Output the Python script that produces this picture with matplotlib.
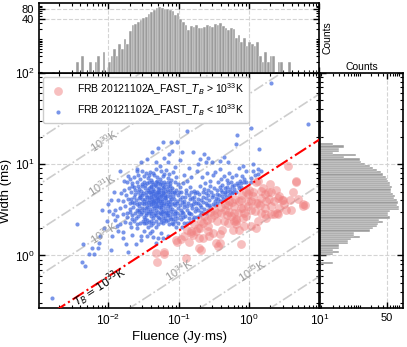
import numpy as np
import matplotlib
matplotlib.use('Agg')
import matplotlib.pyplot as plt
from matplotlib.ticker import FixedLocator, FixedFormatter, LogLocator, NullFormatter

plt.rcParams['font.family'] = ['Liberation Sans', 'DejaVu Sans']

# bursts with T_B < 1e33 K, (log10 fluence [Jy ms], log10 width [ms])
blue_core = [
    (-1.52, 0.93), (-1.41, 0.91), (-1.33, 0.95), (-1.25, 0.92), (-1.18, 0.94), (-1.47, 0.90), (-1.08, 0.91),
    (-1.60, 0.92), (-1.36, 0.90), (-1.21, 0.89),
    (-1.63, 0.86), (-1.55, 0.84), (-1.49, 0.87), (-1.44, 0.85), (-1.39, 0.83), (-1.31, 0.86), (-1.27, 0.84),
    (-1.22, 0.87), (-1.15, 0.85), (-1.11, 0.83), (-1.04, 0.86), (-1.35, 0.88), (-1.58, 0.88), (-1.69, 0.84),
    (-1.66, 0.79), (-1.60, 0.81), (-1.53, 0.78), (-1.50, 0.80), (-1.45, 0.79), (-1.42, 0.81), (-1.37, 0.78),
    (-1.33, 0.80), (-1.29, 0.79), (-1.26, 0.81), (-1.19, 0.78), (-1.16, 0.80), (-1.12, 0.79), (-1.06, 0.81),
    (-1.01, 0.78), (-1.74, 0.80), (-1.40, 0.76), (-1.24, 0.77),
    (-1.71, 0.74), (-1.64, 0.75), (-1.57, 0.73), (-1.52, 0.76), (-1.48, 0.74), (-1.44, 0.72), (-1.40, 0.75),
    (-1.36, 0.73), (-1.32, 0.76), (-1.28, 0.74), (-1.25, 0.72), (-1.21, 0.75), (-1.17, 0.73), (-1.13, 0.76),
    (-1.09, 0.74), (-1.04, 0.72), (-0.99, 0.75), (-1.78, 0.72), (-1.35, 0.71), (-1.30, 0.70), (-1.46, 0.70),
    (-1.75, 0.66), (-1.68, 0.69), (-1.62, 0.67), (-1.58, 0.70), (-1.55, 0.66), (-1.51, 0.68), (-1.47, 0.66),
    (-1.43, 0.69), (-1.40, 0.67), (-1.37, 0.68), (-1.34, 0.66), (-1.31, 0.69), (-1.28, 0.67), (-1.26, 0.65),
    (-1.23, 0.68), (-1.20, 0.66), (-1.16, 0.69), (-1.12, 0.67), (-1.08, 0.65), (-1.05, 0.68), (-1.01, 0.66),
    (-0.97, 0.69), (-1.82, 0.68), (-1.39, 0.64), (-1.33, 0.63), (-1.29, 0.62),
    (-1.79, 0.60), (-1.72, 0.62), (-1.66, 0.59), (-1.61, 0.61), (-1.57, 0.58), (-1.53, 0.62), (-1.50, 0.60),
    (-1.46, 0.58), (-1.43, 0.61), (-1.40, 0.59), (-1.37, 0.57), (-1.35, 0.61), (-1.32, 0.59), (-1.29, 0.57),
    (-1.27, 0.60), (-1.24, 0.62), (-1.21, 0.58), (-1.18, 0.61), (-1.15, 0.59), (-1.11, 0.62), (-1.07, 0.58),
    (-1.03, 0.60), (-0.99, 0.62), (-0.95, 0.59), (-1.86, 0.61), (-1.42, 0.55), (-1.31, 0.54), (-1.25, 0.55),
    (-1.38, 0.62),
    (-1.83, 0.52), (-1.76, 0.54), (-1.70, 0.51), (-1.65, 0.53), (-1.60, 0.50), (-1.56, 0.54), (-1.52, 0.52),
    (-1.49, 0.50), (-1.45, 0.53), (-1.41, 0.51), (-1.38, 0.49), (-1.35, 0.52), (-1.32, 0.50), (-1.28, 0.53),
    (-1.25, 0.51), (-1.22, 0.49), (-1.19, 0.52), (-1.16, 0.50), (-1.13, 0.53), (-1.09, 0.51), (-1.05, 0.49),
    (-1.01, 0.52), (-0.97, 0.50), (-0.93, 0.53), (-1.91, 0.50), (-1.34, 0.47), (-1.27, 0.46), (-1.47, 0.47),
    (-1.88, 0.43), (-1.80, 0.45), (-1.73, 0.42), (-1.67, 0.44), (-1.62, 0.46), (-1.58, 0.43), (-1.54, 0.45),
    (-1.50, 0.42), (-1.46, 0.44), (-1.42, 0.46), (-1.39, 0.43), (-1.36, 0.41), (-1.33, 0.44), (-1.30, 0.42),
    (-1.26, 0.45), (-1.23, 0.43), (-1.20, 0.41), (-1.17, 0.44), (-1.13, 0.42), (-1.10, 0.45), (-1.06, 0.43),
    (-1.02, 0.41), (-0.98, 0.44), (-0.94, 0.42),
    (-1.84, 0.34), (-1.77, 0.37), (-1.70, 0.35), (-1.64, 0.38), (-1.59, 0.34), (-1.55, 0.36), (-1.51, 0.38),
    (-1.47, 0.35), (-1.43, 0.37), (-1.40, 0.33), (-1.37, 0.36), (-1.33, 0.38), (-1.30, 0.34), (-1.26, 0.37),
    (-1.22, 0.35), (-1.18, 0.38), (-1.14, 0.34), (-1.10, 0.36), (-1.05, 0.38), (-1.01, 0.35),
    (-1.48, 0.77), (-1.43, 0.74), (-1.38, 0.80), (-1.34, 0.77), (-1.30, 0.73), (-1.27, 0.78), (-1.23, 0.74),
    (-1.19, 0.71), (-1.15, 0.76), (-1.45, 0.64), (-1.41, 0.70), (-1.36, 0.65), (-1.32, 0.67), (-1.28, 0.64),
    (-1.24, 0.66), (-1.20, 0.63), (-1.17, 0.65), (-1.13, 0.60), (-1.49, 0.56), (-1.44, 0.59), (-1.39, 0.56),
    (-1.34, 0.58), (-1.30, 0.61), (-1.26, 0.58), (-1.22, 0.55), (-1.18, 0.56), (-1.14, 0.56), (-1.52, 0.48),
    (-1.44, 0.49), (-1.40, 0.47), (-1.36, 0.54), (-1.29, 0.48), (-1.24, 0.48), (-1.20, 0.46), (-1.15, 0.47),
    (-1.11, 0.49), (-1.55, 0.64), (-1.59, 0.56), (-1.63, 0.64), (-1.54, 0.71), (-1.10, 0.70), (-1.07, 0.62),
    (-1.05, 0.55), (-1.03, 0.46), (-1.08, 0.40), (-1.48, 0.40), (-1.56, 0.48), (-1.64, 0.57), (-1.69, 0.48),
    (-1.52, 0.66), (-1.21, 0.81), (-1.31, 0.82), (-1.42, 0.88), (-1.14, 0.89), (-1.58, 0.76), (-1.68, 0.62),
    (-1.35, 0.44), (-1.25, 0.40), (-1.45, 0.39), (-1.16, 0.39),
    (-1.62, 0.72), (-1.57, 0.63), (-1.53, 0.57), (-1.48, 0.62), (-1.46, 0.52), (-1.42, 0.64), (-1.38, 0.71),
    (-1.37, 0.60), (-1.33, 0.54), (-1.31, 0.64), (-1.28, 0.70), (-1.26, 0.53), (-1.24, 0.60), (-1.22, 0.70),
    (-1.19, 0.64), (-1.18, 0.48), (-1.16, 0.54), (-1.13, 0.64), (-1.12, 0.72), (-1.09, 0.56), (-1.07, 0.69),
    (-1.06, 0.47), (-1.02, 0.57), (-1.00, 0.70), (-1.70, 0.57), (-1.74, 0.47), (-1.67, 0.40), (-1.61, 0.41),
    (-1.57, 0.50), (-1.50, 0.35), (-1.44, 0.31), (-1.39, 0.38), (-1.32, 0.31), (-1.28, 0.41), (-1.21, 0.39),
    (-1.15, 0.44), (-1.11, 0.40), (-1.08, 0.34), (-1.04, 0.31),
]
blue_left = [
    (-2.80, -0.47), (-2.45, 0.34), (-2.36, 0.13), (-2.38, -0.07), (-2.34, -0.12), (-2.23, 0.08), (-2.21, 0.02),
    (-2.28, 0.01), (-2.15, 0.08), (-2.14, 0.14), (-2.12, 0.21), (-2.09, 0.50), (-2.07, 0.30), (-2.02, 0.38),
    (-2.00, 0.56), (-1.99, 0.49), (-1.96, 0.06), (-1.95, 0.21), (-1.90, 0.39), (-1.88, 0.32), (-1.80, 0.19),
    (-1.79, 0.26), (-1.72, 0.04), (-1.61, 0.12), (-1.59, 0.30), (-1.54, 0.21), (-1.54, 0.17), (-1.45, 0.21),
    (-1.38, 0.27), (-1.33, 0.14), (-1.30, 0.19), (-1.26, 0.25), (-1.23, 0.19), (-1.16, 0.21), (-1.97, 0.61),
    (-1.92, 0.69), (-1.78, 0.82), (-1.66, 0.76), (-1.84, 0.93), (-1.72, 0.87), (-1.94, 0.45), (-1.86, 0.27),
    (-1.75, 0.13), (-1.66, 0.22), (-1.68, 0.31), (-1.50, 0.27), (-1.41, 0.25), (-1.36, 0.20),
]
blue_right = [
    (-0.96, 0.31), (-0.92, 0.35), (-0.88, 0.36), (-0.84, 0.37), (-0.80, 0.40), (-0.97, 0.40), (-0.91, 0.43),
    (-0.86, 0.41), (-0.82, 0.45), (-0.78, 0.42), (-0.95, 0.48), (-0.89, 0.50), (-0.85, 0.47), (-0.81, 0.52),
    (-0.77, 0.49), (-0.93, 0.56), (-0.87, 0.58), (-0.83, 0.55), (-0.79, 0.60), (-0.75, 0.57), (-0.91, 0.64),
    (-0.86, 0.66), (-0.81, 0.63), (-0.77, 0.68), (-0.90, 0.72), (-0.84, 0.75), (-0.79, 0.71), (-0.94, 0.79),
    (-0.88, 0.82), (-0.82, 0.86), (-0.92, 0.88),
    (-0.74, 0.42), (-0.70, 0.44), (-0.66, 0.46), (-0.62, 0.47), (-0.58, 0.50), (-0.72, 0.50), (-0.68, 0.53),
    (-0.64, 0.51), (-0.60, 0.55), (-0.55, 0.53), (-0.52, 0.56), (-0.73, 0.58), (-0.69, 0.61), (-0.65, 0.59),
    (-0.61, 0.63), (-0.57, 0.61), (-0.53, 0.64), (-0.71, 0.67), (-0.66, 0.70), (-0.62, 0.68), (-0.58, 0.72),
    (-0.54, 0.70), (-0.50, 0.74), (-0.70, 0.76), (-0.63, 0.79), (-0.56, 0.82), (-0.67, 0.86), (-0.60, 0.90),
    (-0.52, 0.88), (-0.74, 0.92),
    (-0.48, 0.55), (-0.45, 0.58), (-0.41, 0.60), (-0.37, 0.62), (-0.33, 0.64), (-0.29, 0.66), (-0.25, 0.68),
    (-0.47, 0.63), (-0.43, 0.66), (-0.39, 0.69), (-0.35, 0.67), (-0.31, 0.71), (-0.27, 0.73), (-0.23, 0.70),
    (-0.46, 0.72), (-0.42, 0.75), (-0.38, 0.77), (-0.34, 0.74), (-0.30, 0.79), (-0.26, 0.81), (-0.22, 0.77),
    (-0.44, 0.81), (-0.40, 0.84), (-0.36, 0.87), (-0.32, 0.83), (-0.28, 0.90), (-0.24, 0.86), (-0.48, 0.91),
    (-0.41, 0.95),
    (-0.19, 0.70), (-0.15, 0.74), (-0.11, 0.75), (-0.17, 0.79), (-0.13, 0.82), (-0.08, 0.80), (-0.04, 0.81),
    (-0.18, 0.88), (-0.10, 0.87), (-0.05, 0.92), (0.02, 0.85), (0.08, 0.88), (0.12, 0.95), (-0.14, 0.96),
    (0.05, 1.00), (0.17, 0.93), (0.06, 0.93), (0.12, 0.89), (0.03, 0.80),
    (-0.98, 0.55), (-0.96, 0.64), (-0.94, 0.47), (-0.92, 0.60), (-0.90, 0.68), (-0.88, 0.54), (-0.86, 0.46),
    (-0.84, 0.62), (-0.82, 0.70), (-0.80, 0.56), (-0.78, 0.64), (-0.76, 0.52), (-0.74, 0.70), (-0.72, 0.62),
    (-0.70, 0.55), (-0.68, 0.48), (-0.66, 0.64), (-0.64, 0.73), (-0.62, 0.57), (-0.59, 0.66), (-0.57, 0.55),
    (-0.55, 0.76), (-0.51, 0.66), (-0.49, 0.60), (-0.46, 0.67), (-0.44, 0.62), (-0.40, 0.72), (-0.38, 0.65),
    (-0.34, 0.69), (-0.31, 0.75), (-0.27, 0.69), (-0.24, 0.76), (-0.21, 0.73), (-0.16, 0.77), (-0.12, 0.79),
    (-0.07, 0.84),
]
blue_upper = [
    (-1.59, 0.95), (-1.54, 1.02), (-1.45, 1.06), (-1.38, 1.13), (-1.30, 1.18), (-1.23, 1.24), (-1.11, 1.24),
    (-1.09, 1.15), (-1.02, 1.24), (-1.14, 1.11), (-1.21, 1.07), (-1.33, 1.02), (-1.16, 1.02), (-0.88, 1.36),
    (-0.95, 1.13), (-0.80, 1.13), (-0.64, 1.11), (-0.53, 1.02), (-0.42, 1.04), (-0.30, 1.02), (-0.17, 1.32),
    (-0.19, 1.22), (0.02, 1.40), (0.14, 1.17), (0.84, 1.44), (-0.61, 1.02), (-0.73, 1.00), (-0.85, 0.96),
    (-0.09, 0.98), (0.31, 1.89), (-1.27, 0.98), (-0.99, 1.05), (-1.05, 0.97), (-0.70, 1.06), (-0.58, 1.07),
    (-0.36, 1.08),
]
# bursts with T_B > 1e33 K
red_pts = [
    (0.67, 0.80), (0.77, 0.54), (0.53, 0.50), (0.43, 0.65), (0.58, 0.61), (0.27, 0.69), (0.31, 0.45),
    (0.39, 0.47), (0.24, 0.60), (0.22, 0.52), (0.10, 0.58), (0.08, 0.49), (0.12, 0.38), (0.03, 0.32),
    (-0.11, 0.61), (-0.09, 0.52), (-0.04, 0.43), (-0.16, 0.47), (-0.21, 0.54), (-0.26, 0.43), (-0.30, 0.36),
    (-0.14, 0.28), (-0.11, 0.12), (-0.35, 0.56), (-0.40, 0.47), (-0.45, 0.38), (-0.38, 0.28), (-0.42, 0.23),
    (-0.50, 0.50), (-0.54, 0.41), (-0.59, 0.32), (-0.52, 0.25), (-0.47, 0.14), (-0.44, 0.10), (-0.64, 0.43),
    (-0.69, 0.38), (-0.73, 0.30), (-0.66, 0.19), (-0.71, 0.08), (-0.78, 0.34), (-0.83, 0.27), (-0.88, 0.28),
    (-0.85, 0.15), (-1.02, 0.15), (-1.21, 0.04), (-1.33, 0.03), (-0.28, 0.60), (0.03, 0.60), (-0.02, 0.67),
    (0.17, 0.71), (0.29, 0.78), (0.48, 0.61), (0.31, 0.54), (0.17, 0.47), (-0.02, 0.54), (-0.19, 0.38),
    (-0.23, 0.28), (0.43, 0.52), (0.36, 0.45), (0.24, 0.41), (0.10, 0.30), (-0.09, 0.41), (-0.42, 0.14),
    (-0.90, -0.03), (-0.57, 0.21), (-0.71, 0.19), (-0.19, 0.34), (-1.21, 0.01), (-1.31, -0.07), (-1.04, 0.17),
    (0.79, 0.55), (0.41, 0.63), (0.22, 0.67), (0.12, 0.58), (0.22, 0.45), (0.41, 0.45), (-0.07, 0.32),
    (-0.21, 0.38), (-0.69, 0.06), (-0.83, 0.25), (0.55, 0.98), (0.67, 0.82), (0.31, 0.69), (0.17, 0.63),
    (0.46, 0.61), (0.77, 0.56), (0.10, 0.80), (0.12, 0.82),
    (-0.55, 0.48), (-0.50, 0.44), (-0.45, 0.47), (-0.40, 0.53), (-0.35, 0.50), (-0.30, 0.55), (-0.25, 0.59),
    (-0.20, 0.62), (-0.15, 0.60), (-0.10, 0.66), (-0.05, 0.69), (0.00, 0.72), (0.05, 0.70), (-0.32, 0.44),
    (-0.22, 0.47), (-0.12, 0.52), (-0.02, 0.60), (0.06, 0.65), (-0.60, 0.39), (-0.65, 0.35), (-0.70, 0.30),
    (-0.75, 0.27), (-0.80, 0.22), (-0.92, 0.21), (-0.97, 0.18), (-0.58, 0.27), (-0.36, 0.38), (-0.28, 0.48),
    (-0.18, 0.40), (-0.08, 0.46), (0.03, 0.50), (0.15, 0.55), (0.20, 0.74), (0.35, 0.60), (0.50, 0.56),
    (0.62, 0.70), (0.60, 0.50), (0.70, 0.62), (0.38, 0.72), (0.28, 0.62),
]

# marginal histograms: 100 log bins each, counts
flu_edges_log = np.linspace(-2.80, 0.97, 101)
flu_counts = [1, 0, 0, 0, 0, 0, 0, 0, 0, 2, 0, 3, 0, 1, 2, 1, 2, 3, 0, 4,
              0, 2, 3, 5, 3, 7, 5, 10, 7, 17,
              26, 28, 33, 37, 42, 47, 56, 66, 75, 84,
              94, 86, 78, 80, 75, 71, 53, 59, 40, 33,
              26, 19, 25, 23, 26, 21, 22, 23, 26, 24,
              23, 28, 27, 30, 24, 21, 19, 22, 20, 11,
              13, 8, 11, 6, 8, 7, 6, 8, 3, 2,
              4, 2, 3, 3, 1, 2, 2, 0, 1, 2,
              0, 1, 0, 0, 0, 1, 0, 1, 0, 1]
wid_edges_log = np.linspace(-0.47, 1.89, 101)
wid_counts = [1, 0, 0, 1, 0, 0, 1, 0, 0, 1,
              1, 0, 0, 0, 0, 1, 2, 1, 1, 0,
              2, 3, 2, 3, 3, 5, 5, 6, 10, 7,
              7, 18, 22, 27, 30, 40, 32, 60, 54, 54,
              60, 102, 104, 92, 98, 89, 76, 81, 73, 62,
              64, 66, 60, 60, 54, 49, 47, 40, 36, 27,
              22, 18, 14, 11, 10, 4, 8, 2, 3, 3,
              4, 2, 0, 0, 1, 1, 0, 1, 0, 1,
              0, 1, 0, 0, 0, 0, 0, 0, 0, 0,
              0, 0, 0, 0, 0, 0, 0, 0, 0, 1]

# constant brightness temperature lines: width = tb_norm*sqrt(fluence)*10**((33-p)/2)
tb_norm = 5.9
tb_gray_powers = [29, 30, 31, 32, 34, 35, 36]
tb_label_powers = [30, 31, 32, 34, 35]
tb_label_flu = [0.0086, 0.0081, 0.0086, 0.101, 1.1]
tb_label_wid = [18.1, 6.0, 1.77, 0.695, 0.68]

blue = np.array(blue_core + blue_left + blue_right + blue_upper)
red = np.array(red_pts)

fig = plt.figure(figsize=(4.07, 3.47), dpi=100)
ax = fig.add_axes([39 / 407, 39 / 347, 280.5 / 407, 235 / 347])
ax.set_xscale('log')
ax.set_yscale('log')
ax_top = fig.add_axes([39 / 407, 274 / 347, 280.5 / 407, 70 / 347], sharex=ax)
ax_right = fig.add_axes([320 / 407, 39 / 347, 83 / 407, 235 / 347], sharey=ax)

grid_kw = dict(ls='--', color='#d4d4d4', lw=0.8)
bar_color = '#9c9c9c'

# main scatter
ax.scatter(10 ** red[:, 0], 10 ** red[:, 1], s=40, color='lightcoral', alpha=0.5, lw=0, zorder=3,
           label=r'FRB 20121102A_FAST_$T_B$ > $\mathdefault{10^{33}}$K')
ax.scatter(10 ** blue[:, 0], 10 ** blue[:, 1], s=9, color='royalblue', alpha=0.7, lw=0, zorder=2,
           label=r'FRB 20121102A_FAST_$T_B$ < $\mathdefault{10^{33}}$K')

f_line = np.logspace(-3.3, 1.3, 60)
for p in tb_gray_powers:
    ax.plot(f_line, tb_norm * np.sqrt(f_line) * 10 ** ((33 - p) / 2), color='#cdcdcd', ls='-.', lw=1.2, zorder=1)
ax.plot(f_line, tb_norm * np.sqrt(f_line), color='red', ls='-.', lw=1.5, zorder=4)

for p, fx, wy in zip(tb_label_powers, tb_label_flu, tb_label_wid):
    ax.text(fx, wy, r'$\mathdefault{10^{%d}}$K' % p, color='#9a9a9a', fontsize=8, rotation=33,
            ha='center', va='center', rotation_mode='anchor', zorder=5)
ax.text(0.0077, 0.452, r'$T_B=10^{33}$K', color='black', fontsize=8, rotation=33,
        ha='center', va='center', rotation_mode='anchor', zorder=5)

ax.set_xlim(1.03e-3, 10)
ax.set_ylim(0.265, 100)
ax.grid(True, which='major', **grid_kw)
ax.set_axisbelow(True)
ax.tick_params(which='both', direction='in', top=True, right=True, labelsize=8.5)
ax.tick_params(which='major', length=4, width=1)
ax.tick_params(which='minor', length=2, width=0.8)
ax.set_xlabel('Fluence (Jy·ms)', fontsize=9.5, labelpad=2)
ax.set_ylabel('Width (ms)', fontsize=9.5, labelpad=2)
ax.legend(loc='upper left', fontsize=7.5, framealpha=1, edgecolor='#cccccc',
          borderaxespad=0.35, handletextpad=0.8, borderpad=0.5)

# top histogram (fluence)
fe = 10 ** flu_edges_log
ax_top.bar(fe[:-1], flu_counts, width=np.diff(fe), align='edge', color=bar_color,
           edgecolor='white', linewidth=0.3)
ax_top.set_yscale('log')
ax_top.set_ylim(0.95, 121)
ax_top.yaxis.set_major_locator(FixedLocator([40, 80]))
ax_top.yaxis.set_major_formatter(FixedFormatter(['40', '80']))
ax_top.yaxis.set_minor_locator(LogLocator(subs=np.arange(1, 10)))
ax_top.yaxis.set_minor_formatter(NullFormatter())
ax_top.grid(True, which='major', **grid_kw)
ax_top.set_axisbelow(True)
ax_top.tick_params(which='both', direction='in', top=True, right=True, labelbottom=False, labelsize=8)
ax_top.tick_params(which='major', length=4, width=1)
ax_top.tick_params(which='minor', length=2, width=0.8)
ax_top.yaxis.set_label_position('right')
ax_top.set_ylabel('Counts', fontsize=7.5, labelpad=2)

# right histogram (width)
we = 10 ** wid_edges_log
ax_right.barh(we[:-1], wid_counts, height=np.diff(we), align='edge', color=bar_color,
              edgecolor='white', linewidth=0.3)
ax_right.set_xscale('log')
ax_right.set_xlim(0.95, 129)
ax_right.xaxis.set_major_locator(FixedLocator([50]))
ax_right.xaxis.set_major_formatter(FixedFormatter(['50']))
ax_right.xaxis.set_minor_locator(LogLocator(subs=np.arange(1, 10)))
ax_right.xaxis.set_minor_formatter(NullFormatter())
ax_right.grid(True, which='major', **grid_kw)
ax_right.set_axisbelow(True)
ax_right.tick_params(which='both', direction='in', top=True, right=True, labelleft=False, labelsize=8)
ax_right.tick_params(which='major', length=4, width=1)
ax_right.tick_params(which='minor', length=2, width=0.8)
ax_right.xaxis.set_label_position('top')
ax_right.set_xlabel('Counts', fontsize=7.5, labelpad=2)

for a in (ax, ax_top, ax_right):
    for sp in a.spines.values():
        sp.set_linewidth(1.2)

fig.savefig('out.png', dpi=100)
